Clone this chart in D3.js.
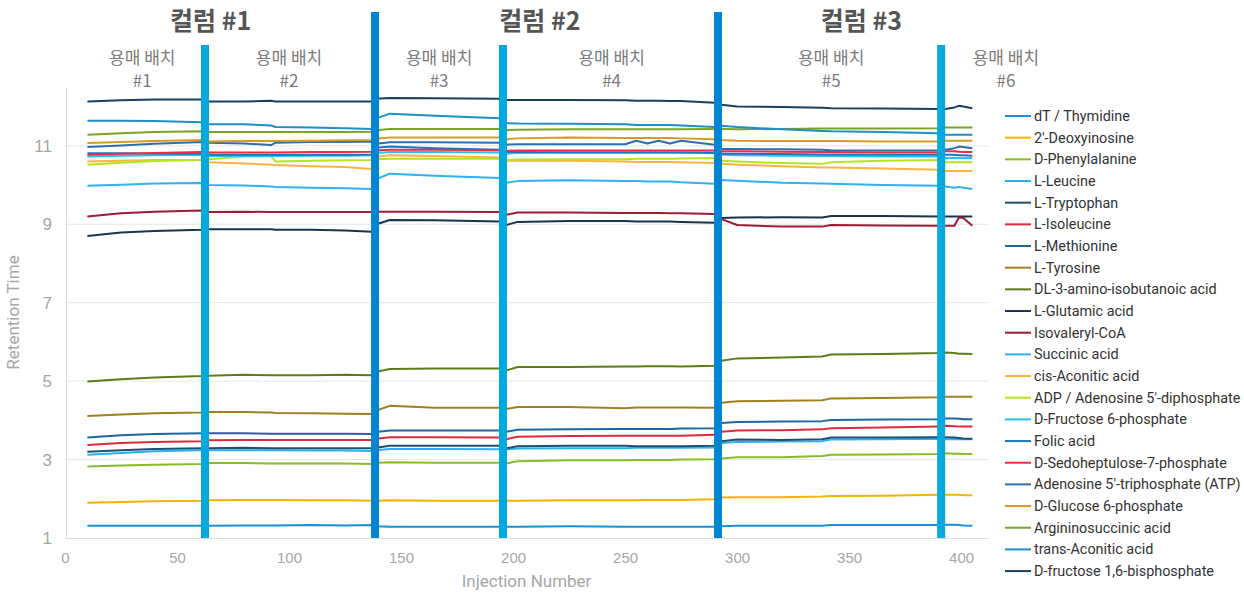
<!DOCTYPE html>
<html>
<head>
<meta charset="utf-8">
<script src="https://cdn.jsdelivr.net/npm/d3@7"></script>
<style>
  html, body { margin: 0; padding: 0; background: #fff; }
  svg { display: block; font-family: Roboto, "Noto Sans", sans-serif; }
</style>
</head>
<body>
<div id="chart"></div>
<script>
// injection numbers shared by every series
const injections = [10, 25, 40, 61, 64, 80, 92, 94, 110, 125, 137, 139, 145, 165, 194, 197, 202, 225, 250, 255, 260, 265, 270, 275, 290, 293, 300, 320, 338, 342, 365, 390, 393, 397, 399, 401, 405];

// retention times (segments: 10-61 | 64-137 | 139-194 | 197-290 | 293-390 | 393-405)
const thymidine     = [1.31,1.31,1.31,1.31, 1.31,1.32,1.32,1.32,1.33,1.32,1.33, 1.30,1.29,1.29,1.29, 1.29,1.29,1.30,1.29,1.29,1.29,1.29,1.29,1.29,1.29, 1.30,1.31,1.31,1.31,1.33,1.33,1.33, 1.34,1.34,1.33,1.32,1.31];
const deoxyinosine  = [1.90,1.92,1.94,1.95, 1.96,1.97,1.97,1.97,1.96,1.96,1.95, 1.95,1.96,1.95,1.95, 1.95,1.95,1.96,1.96,1.96,1.97,1.97,1.97,1.97,1.99, 2.03,2.04,2.04,2.06,2.07,2.08,2.10, 2.10,2.10,2.10,2.09,2.09];
const phenylalanine = [2.82,2.85,2.87,2.89, 2.91,2.91,2.90,2.90,2.90,2.90,2.89, 2.92,2.93,2.92,2.92, 2.90,2.96,2.98,2.98,2.99,2.99,2.99,2.99,3.00,3.01, 3.03,3.06,3.06,3.09,3.12,3.13,3.14, 3.16,3.15,3.15,3.14,3.14];
const leucine       = [3.12,3.17,3.21,3.24, 3.24,3.24,3.24,3.24,3.23,3.23,3.22, 3.24,3.27,3.27,3.26, 3.26,3.28,3.29,3.29,3.30,3.30,3.30,3.30,3.30,3.31, 3.42,3.45,3.46,3.47,3.51,3.52,3.53, 3.52,3.52,3.52,3.52,3.52];
const tryptophan    = [3.20,3.24,3.27,3.29, 3.29,3.30,3.29,3.29,3.29,3.29,3.29, 3.30,3.35,3.35,3.35, 3.29,3.34,3.35,3.35,3.34,3.34,3.34,3.34,3.34,3.35, 3.47,3.51,3.50,3.52,3.56,3.56,3.57, 3.57,3.56,3.55,3.54,3.53];
const isoleucine    = [3.37,3.42,3.45,3.47, 3.49,3.50,3.50,3.50,3.50,3.50,3.50, 3.53,3.57,3.57,3.56, 3.52,3.58,3.60,3.61,3.61,3.61,3.61,3.61,3.61,3.63, 3.71,3.74,3.75,3.77,3.80,3.82,3.84, 3.86,3.85,3.84,3.84,3.84];
const methionine    = [3.56,3.62,3.65,3.67, 3.67,3.67,3.66,3.66,3.66,3.66,3.65, 3.70,3.74,3.74,3.74, 3.71,3.76,3.77,3.78,3.78,3.78,3.78,3.78,3.79,3.80, 3.93,3.96,3.97,3.98,4.01,4.02,4.03, 4.05,4.05,4.04,4.03,4.03];
const tyrosine      = [4.11,4.15,4.18,4.20, 4.21,4.21,4.20,4.19,4.18,4.17,4.16, 4.25,4.37,4.32,4.32, 4.29,4.34,4.34,4.31,4.33,4.33,4.33,4.33,4.33,4.32, 4.45,4.49,4.50,4.51,4.56,4.57,4.59, 4.60,4.60,4.60,4.60,4.60];
const aminoIsobut   = [4.99,5.05,5.09,5.13, 5.14,5.16,5.15,5.15,5.15,5.16,5.15, 5.24,5.31,5.32,5.32, 5.27,5.36,5.36,5.37,5.37,5.38,5.38,5.38,5.37,5.39, 5.52,5.58,5.60,5.63,5.68,5.69,5.72, 5.73,5.72,5.70,5.70,5.69];
const glutamic      = [8.70,8.79,8.83,8.86, 8.87,8.87,8.87,8.86,8.86,8.84,8.81, 9.00,9.11,9.10,9.07, 8.98,9.06,9.08,9.08,9.07,9.07,9.07,9.07,9.06,9.04, 9.16,9.17,9.18,9.17,9.21,9.21,9.20, 9.20,9.20,9.20,9.20,9.20];
const isovaleryl    = [9.20,9.28,9.32,9.35, 9.31,9.32,9.31,9.31,9.31,9.31,9.31, 9.32,9.32,9.32,9.31, 9.24,9.30,9.30,9.29,9.29,9.29,9.29,9.28,9.28,9.26, 9.13,8.98,8.94,8.94,8.98,8.97,8.96, 8.96,8.96,9.17,9.16,8.96];
const succinic      = [9.98,10.01,10.04,10.05, 10.00,9.99,9.96,9.95,9.93,9.92,9.90, 10.15,10.29,10.24,10.18, 10.06,10.10,10.12,10.10,10.10,10.09,10.09,10.09,10.07,10.03, 10.13,10.11,10.06,10.04,10.03,10.00,9.98, 9.96,9.93,9.95,9.93,9.90];
const cisAconitic   = [10.60,10.62,10.64,10.64, 10.58,10.55,10.52,10.51,10.48,10.46,10.41, 10.72,10.76,10.74,10.70, 10.62,10.62,10.62,10.60,10.59,10.59,10.59,10.59,10.58,10.56, 10.54,10.52,10.48,10.45,10.45,10.42,10.39, 10.36,10.36,10.36,10.36,10.36];
const adp           = [10.52,10.57,10.61,10.64, 10.66,10.73,10.73,10.60,10.62,10.63,10.64, 10.66,10.67,10.67,10.67, 10.64,10.65,10.66,10.66,10.67,10.67,10.67,10.67,10.68,10.69, 10.62,10.60,10.56,10.54,10.58,10.62,10.64, 10.58,10.58,10.58,10.58,10.58];
const fructose6p    = [10.73,10.75,10.76,10.77, 10.74,10.74,10.74,10.74,10.75,10.75,10.76, 10.82,10.84,10.84,10.83, 10.80,10.82,10.83,10.83,10.83,10.83,10.83,10.83,10.83,10.83, 10.77,10.76,10.75,10.74,10.74,10.73,10.73, 10.69,10.69,10.69,10.69,10.69];
const folic         = [10.81,10.81,10.80,10.80, 10.77,10.77,10.77,10.77,10.77,10.77,10.78, 10.95,10.98,10.94,10.90, 10.84,10.84,10.83,10.83,10.83,10.83,10.83,10.83,10.83,10.82, 10.80,10.80,10.79,10.78,10.78,10.77,10.77, 10.77,10.77,10.76,10.76,10.75];
const sedoheptulose = [10.77,10.80,10.82,10.84, 10.83,10.83,10.83,10.83,10.84,10.84,10.85, 10.88,10.90,10.90,10.89, 10.87,10.88,10.88,10.88,10.88,10.88,10.88,10.88,10.88,10.88, 10.86,10.86,10.85,10.84,10.84,10.83,10.83, 10.86,10.86,10.85,10.84,10.84];
const atp           = [10.97,11.01,11.05,11.10, 11.08,11.06,11.02,11.08,11.10,11.10,11.11, 11.05,11.09,11.09,11.08, 11.03,11.04,11.04,11.04,11.13,11.06,11.13,11.06,11.13,11.03, 10.92,10.92,10.91,10.90,10.89,10.88,10.88, 10.90,10.94,10.98,10.97,10.94];
const glucose6p     = [11.07,11.10,11.12,11.15, 11.11,11.12,11.12,11.12,11.13,11.14,11.15, 11.18,11.21,11.21,11.21, 11.17,11.19,11.21,11.20,11.20,11.20,11.20,11.20,11.19,11.17, 11.15,11.13,11.12,11.12,11.12,11.11,11.11, 11.13,11.13,11.13,11.13,11.13];
const arginino      = [11.28,11.32,11.35,11.37, 11.35,11.35,11.35,11.35,11.35,11.35,11.36, 11.40,11.43,11.43,11.43, 11.40,11.41,11.42,11.42,11.42,11.42,11.42,11.42,11.42,11.43, 11.43,11.42,11.43,11.44,11.44,11.44,11.45, 11.47,11.47,11.47,11.47,11.47];
const transAconitic = [11.64,11.64,11.63,11.60, 11.55,11.55,11.52,11.48,11.47,11.45,11.43, 11.70,11.82,11.77,11.70, 11.58,11.57,11.56,11.55,11.53,11.53,11.53,11.53,11.52,11.48, 11.51,11.48,11.42,11.38,11.37,11.35,11.32, 11.28,11.28,11.28,11.28,11.28];
const fructose16bp  = [12.13,12.16,12.18,12.18, 12.13,12.13,12.15,12.13,12.13,12.13,12.13, 12.20,12.22,12.21,12.20, 12.17,12.17,12.17,12.16,12.15,12.15,12.15,12.14,12.14,12.10, 12.05,12.00,11.99,11.97,11.96,11.95,11.94, 11.94,11.98,12.02,12.00,11.96];

const seriesNames = ["dT / Thymidine", "2'-Deoxyinosine", "D-Phenylalanine", "L-Leucine", "L-Tryptophan",
  "L-Isoleucine", "L-Methionine", "L-Tyrosine", "DL-3-amino-isobutanoic acid", "L-Glutamic acid",
  "Isovaleryl-CoA", "Succinic acid", "cis-Aconitic acid", "ADP / Adenosine 5'-diphosphate",
  "D-Fructose 6-phosphate", "Folic acid", "D-Sedoheptulose-7-phosphate", "Adenosine 5'-triphosphate (ATP)",
  "D-Glucose 6-phosphate", "Argininosuccinic acid", "trans-Aconitic acid", "D-fructose 1,6-bisphosphate"];
const seriesValues = [thymidine, deoxyinosine, phenylalanine, leucine, tryptophan, isoleucine, methionine,
  tyrosine, aminoIsobut, glutamic, isovaleryl, succinic, cisAconitic, adp, fructose6p, folic,
  sedoheptulose, atp, glucose6p, arginino, transAconitic, fructose16bp];
const seriesColors = ["#1b8fd6", "#f5b200", "#86bc25", "#2ab0ee", "#1d4f72", "#e0283c", "#1f65a0",
  "#a0801e", "#5a7d1a", "#17354f", "#9e1b32", "#30b0f2", "#fbb43e", "#b3e620", "#22c4f4", "#1b76c0",
  "#f02a44", "#2f6ea8", "#d89a22", "#79a325", "#1f8ec3", "#193f60"];

// batch / column boundaries (injection number)
const batchBreaks = [62.5, 195.5, 391.1];
const columnBreaks = [138.4, 291.5];
const batchLabels = ["#1", "#2", "#3", "#4", "#5", "#6"];
const batchLabelAt = [34.5, 100, 167, 244, 342, 420];
const columnLabels = ["컬럼 #1", "컬럼 #2", "컬럼 #3"];
const columnLabelAt = [65, 212, 355.5];

const yTicks = [1, 3, 5, 7, 9, 11];
const xTicks = [0, 50, 100, 150, 200, 250, 300, 350, 400];

const width = 1244, height = 592;
const svg = d3.select("#chart").append("svg")
  .attr("width", width).attr("height", height);

const x = d3.scaleLinear().domain([0, 412]).range([65, 988]);
const y = d3.scaleLinear().domain([1, 12.5]).range([538, 87]);

// grid
svg.append("g").selectAll("line").data(yTicks.slice(1)).join("line")
  .attr("x1", x(0)).attr("x2", x(412))
  .attr("y1", d => y(d)).attr("y2", d => y(d))
  .attr("stroke", "#e6e6e6").attr("stroke-width", 1);

// axes
const xAxis = svg.append("g").attr("transform", `translate(0,${y(1)})`)
  .call(d3.axisBottom(x).tickValues(xTicks).tickSize(0).tickPadding(14));
xAxis.select(".domain").attr("stroke", "#dcdcdc");
xAxis.selectAll("text").attr("fill", "#a6a6a6").attr("font-size", 15);

const yAxis = svg.append("g").attr("transform", `translate(${x(0) + 1},0)`)
  .call(d3.axisLeft(y).tickValues(yTicks).tickSize(0).tickPadding(14));
yAxis.select(".domain").attr("stroke", "#dcdcdc");
yAxis.selectAll("text").attr("fill", "#a6a6a6").attr("font-size", 17);

svg.append("text")
  .attr("x", x(206)).attr("y", 587)
  .attr("text-anchor", "middle").attr("fill", "#a6a6a6").attr("font-size", 17)
  .text("Injection Number");
svg.append("text")
  .attr("transform", `translate(19,${y(6.75)}) rotate(-90)`)
  .attr("text-anchor", "middle").attr("fill", "#a6a6a6").attr("font-size", 17)
  .text("Retention Time");

// series lines
const line = d3.line()
  .x((d, i) => x(injections[i]))
  .y(d => y(d));

svg.append("g").selectAll("path").data(seriesValues).join("path")
  .attr("d", d => line(d))
  .attr("fill", "none")
  .attr("stroke", (d, i) => seriesColors[i])
  .attr("stroke-width", 2)
  .attr("stroke-linejoin", "round");

// separators
svg.append("g").selectAll("line").data(batchBreaks).join("line")
  .attr("x1", d => x(d)).attr("x2", d => x(d))
  .attr("y1", 45).attr("y2", y(1))
  .attr("stroke", "#00a9df").attr("stroke-width", 8);
svg.append("g").selectAll("line").data(columnBreaks).join("line")
  .attr("x1", d => x(d)).attr("x2", d => x(d))
  .attr("y1", 12).attr("y2", y(1))
  .attr("stroke", "#0085d3").attr("stroke-width", 8);

// header labels
const kFont = '"Noto Sans CJK KR", "Noto Sans", sans-serif';
svg.append("g").selectAll("text").data(columnLabels).join("text")
  .attr("x", (d, i) => x(columnLabelAt[i])).attr("y", 30)
  .attr("text-anchor", "middle")
  .attr("font-family", kFont).attr("font-weight", 700).attr("font-size", 25)
  .attr("fill", "#555555")
  .text(d => d);

const batch = svg.append("g").selectAll("text").data(batchLabels).join("text")
  .attr("text-anchor", "middle")
  .attr("font-family", kFont).attr("font-size", 17)
  .attr("fill", "#7a7a7a");
batch.append("tspan")
  .attr("x", (d, i) => x(batchLabelAt[i])).attr("y", 64)
  .text("용매 배치");
batch.append("tspan")
  .attr("x", (d, i) => x(batchLabelAt[i])).attr("y", 87)
  .text(d => d);

// legend
const legend = svg.append("g").selectAll("g").data(seriesNames).join("g")
  .attr("transform", (d, i) => `translate(1005,${116 + i * 21.67})`);
legend.append("line")
  .attr("x1", 0).attr("x2", 26).attr("y1", 0).attr("y2", 0)
  .attr("stroke", (d, i) => seriesColors[i]).attr("stroke-width", 2);
legend.append("text")
  .attr("x", 29).attr("y", 0).attr("dy", "0.35em")
  .attr("font-size", 14.4).attr("fill", "#333")
  .text(d => d);
</script>
</body>
</html>
